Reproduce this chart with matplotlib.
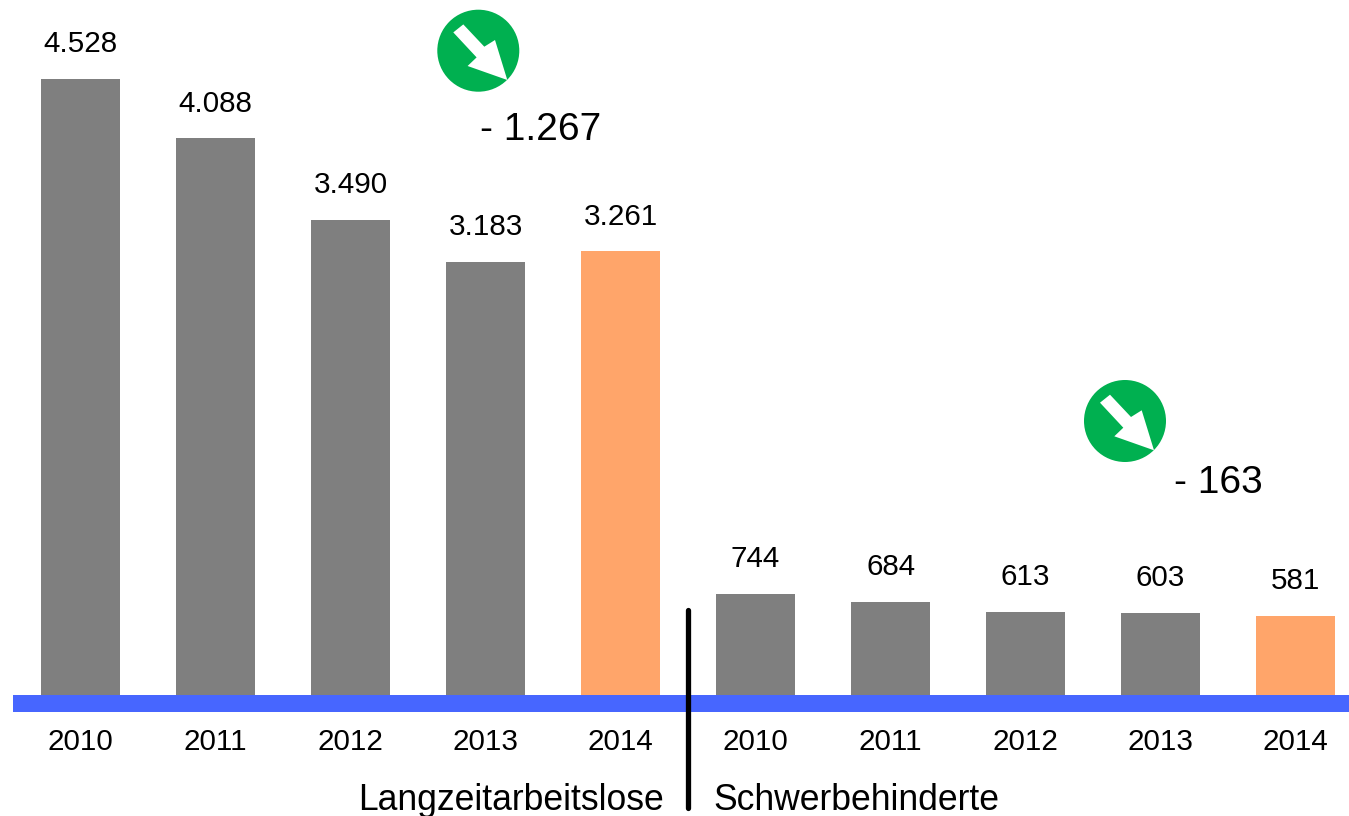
import numpy as np
import matplotlib
matplotlib.use('Agg')
from matplotlib import pyplot as plt
from matplotlib.patches import Circle, Polygon

W, H = 1349, 816

years = ['2010', '2011', '2012', '2013', '2014']
langzeit = [4528, 4088, 3490, 3183, 3261]
schwer = [744, 684, 613, 603, 581]
langzeit_labels = ['4.528', '4.088', '3.490', '3.183', '3.261']
schwer_labels = ['744', '684', '613', '603', '581']

GRAY = '#7f7f7f'
ORANGE = '#ffa56a'
BLUE = '#4766ff'
GREEN = '#00b050'

plt.rcParams['font.family'] = ['Liberation Sans', 'DejaVu Sans']

fig = plt.figure(figsize=(W / 100, H / 100), dpi=100)
# axes in pixels of the picture, y is value, baseline at pixel 695
px_per_unit = (695 - 78.5) / 4528
ax = fig.add_axes([0, 0, 1, 1])
ax.set_xlim(0, W)
ax.set_ylim(-(H - 695) / px_per_unit, 695 / px_per_unit)
ax.axis('off')

values = langzeit + schwer
labels = langzeit_labels + schwer_labels
colors = [GRAY] * 4 + [ORANGE] + [GRAY] * 4 + [ORANGE]
x = 80.6 + np.arange(10) * 135
ax.bar(x, values, width=79.5, color=colors, linewidth=0, zorder=2)

u = 1 / px_per_unit  # one pixel in value units

for xi, v, lab in zip(x, values, labels):
    ax.text(xi, v + 34.5 * u, lab, ha='center', va='center', fontsize=21.3)

# blue axis band
ax.axhspan(-17 * u, 0, xmin=13 / W, xmax=1, color=BLUE, linewidth=0, zorder=3)

for xi, yr in zip(x, years + years):
    ax.text(xi, -47 * u, yr, ha='center', va='center', fontsize=21.3)

# divider
ax.plot([688, 688], [85.5 * u, -112.5 * u], color='black', lw=3.8,
        solid_capstyle='round', zorder=4)

ax.text(663.5, -105 * u, 'Langzeitarbeitslose', ha='right', va='center', fontsize=25.6)
ax.text(713, -105 * u, 'Schwerbehinderte', ha='left', va='center', fontsize=25.6)

ax.text(480, (695 - 130) * u, '- 1.267', ha='left', va='center', fontsize=28)
ax.text(1174, (695 - 483) * u, '- 163', ha='left', va='center', fontsize=28)

# green circles with arrow; drawn in a pixel-coordinate overlay
ov = fig.add_axes([0, 0, 1, 1])
ov.set_xlim(0, W)
ov.set_ylim(H, 0)
ov.axis('off')
ov.patch.set_alpha(0)

arrow = np.array([[-25, -18.3], [-15, -26.3], [6, -4], [16.7, -10.7],
                  [29, 29.3], [-10.7, 15.3], [-1.7, 6.7]])

for cx, cy in [(478.3, 50.7), (1125, 421)]:
    ov.add_patch(Circle((cx, cy), 41, color=GREEN, linewidth=0))
    ov.add_patch(Polygon(arrow + [cx, cy], closed=True, color='white', linewidth=0))

fig.savefig('out.png', dpi=100)
